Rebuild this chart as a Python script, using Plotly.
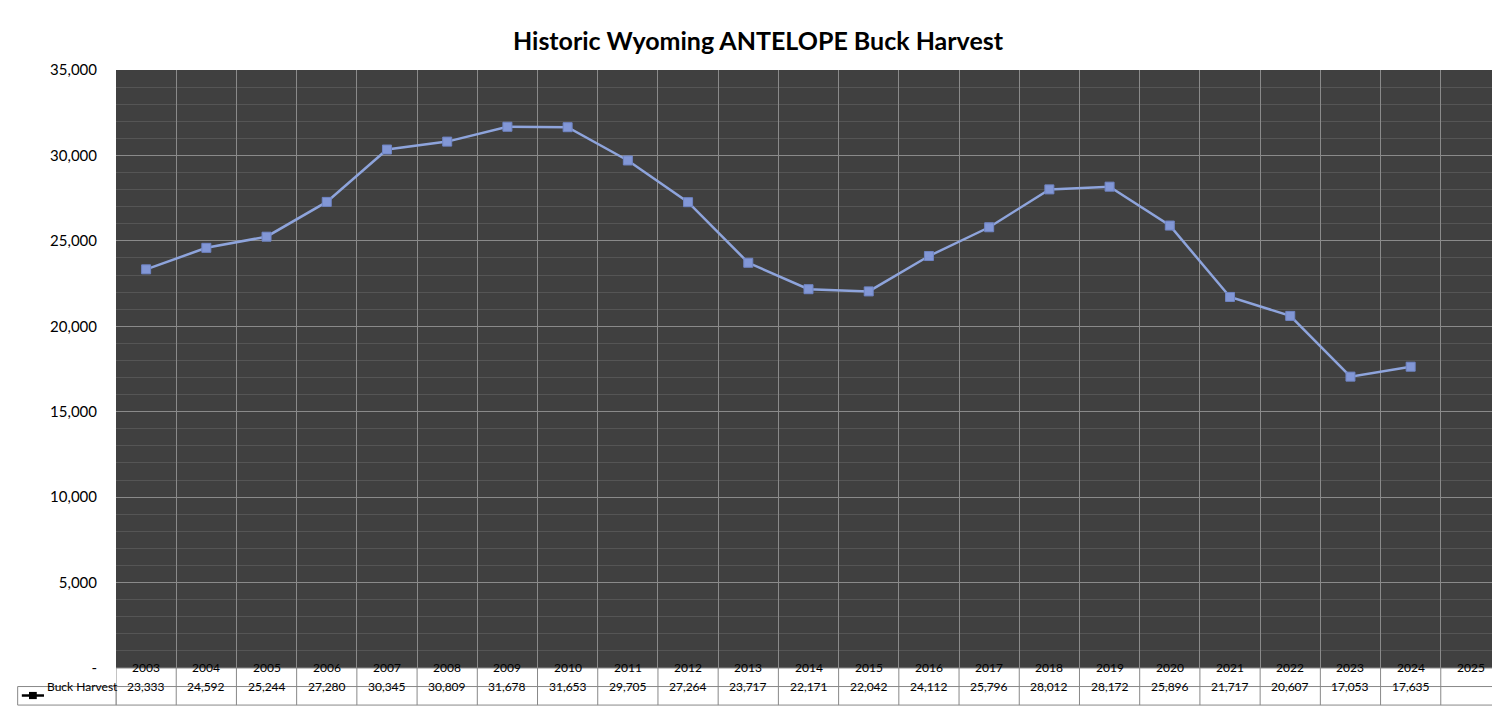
import plotly.graph_objects as go

years = [str(y) for y in range(2003, 2026)]
harvest = [23333, 24592, 25244, 27280, 30345, 30809, 31678, 31653, 29705, 27264,
           23717, 22171, 22042, 24112, 25796, 28012, 28172, 25896, 21717, 20607,
           17053, 17635, None]
series_name = "Buck Harvest"
yticks = [0, 5000, 10000, 15000, 20000, 25000, 30000, 35000]
yticklabels = ["-", "5,000", "10,000", "15,000", "20,000", "25,000", "30,000", "35,000"]

line_col = "#8EA4DC"
fig = go.Figure()
fig.add_trace(go.Scatter(x=years, y=harvest, mode="lines+markers", name=series_name,
                         line=dict(color=line_col, width=2.5),
                         marker=dict(symbol="square", size=9, color="#8297D6",
                                     line=dict(color="#6F84C4", width=1))))

font = "Lato"
row1, row2, rowb = -0.015, -0.046, -0.062
shapes = []
n = len(years)
for yy in [0, -0.031, rowb]:
    shapes.append(dict(type="line", xref="x", yref="paper", x0=-0.5, x1=n - 0.5, y0=yy, y1=yy,
                       line=dict(color="#888", width=1)))
for i in range(n + 1):
    shapes.append(dict(type="line", xref="x", yref="paper", x0=i - 0.5, x1=i - 0.5, y0=0, y1=rowb,
                       line=dict(color="#888", width=1)))
shapes.append(dict(type="rect", xref="paper", yref="paper", x0=-0.071, x1=0, y0=-0.031, y1=rowb,
                   line=dict(color="#888", width=1)))
shapes.append(dict(type="line", xref="paper", yref="paper", x0=-0.068, x1=-0.052, y0=row2, y1=row2,
                   line=dict(color="black", width=2.5)))
shapes.append(dict(type="rect", xref="paper", yref="paper", x0=-0.0628, x1=-0.0572, y0=row2 - 0.006,
                   y1=row2 + 0.006, fillcolor="black", line=dict(width=0)))

ann = []
for i, (yr, v) in enumerate(zip(years, harvest)):
    ann.append(dict(x=i, y=row1, xref="x", yref="paper", text=yr, showarrow=False,
                    font=dict(size=12, color="black", family=font)))
    ann.append(dict(x=i, y=row2, xref="x", yref="paper", text="" if v is None else f"{v:,}",
                    showarrow=False, font=dict(size=12, color="black", family=font)))
ann.append(dict(x=-0.051, y=row2, xref="paper", yref="paper", text=series_name, showarrow=False,
                xanchor="left", font=dict(size=12, color="black", family=font)))

fig.update_layout(
    width=1500, height=707, paper_bgcolor="white", plot_bgcolor="#404040",
    margin=dict(l=108, r=7, t=62, b=47, autoexpand=False),
    title=dict(text="<b>Historic Wyoming ANTELOPE Buck Harvest</b>", x=0.5, y=0.965,
               xanchor="center", font=dict(size=25, color="black", family=font)),
    showlegend=False, shapes=shapes, annotations=ann,
    xaxis=dict(type="category", categoryarray=years, range=[-0.5, n - 0.5], tickson="boundaries",
               showticklabels=False, ticks="", showgrid=True, gridcolor="#8a8a8a", gridwidth=1,
               zeroline=False),
    yaxis=dict(range=[0, 35000], tickvals=yticks, ticktext=yticklabels, showgrid=True,
               gridcolor="#8a8a8a", gridwidth=1, zeroline=False, ticks="", ticklabelstandoff=18,
               tickfont=dict(size=15, color="black", family=font),
               minor=dict(dtick=1000, showgrid=True, gridcolor="#555555", gridwidth=1)),
)
fig.write_html("out.html")
